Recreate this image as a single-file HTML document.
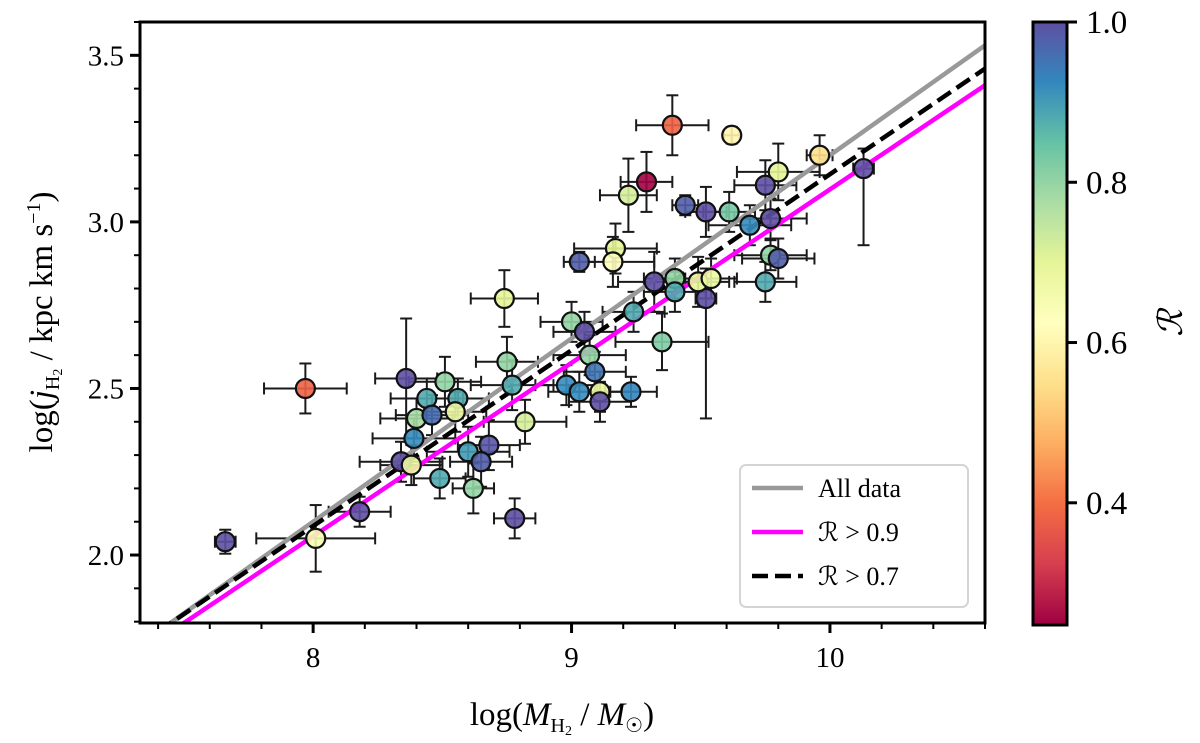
<!DOCTYPE html>
<html><head><meta charset="utf-8">
<style>
html,body{margin:0;padding:0;background:#fff;}
svg{display:block;font-family:"Liberation Serif","DejaVu Serif",serif;}
</style></head>
<body>
<svg id="chart" width="1200" height="743" viewBox="0 0 1200 743" xmlns="http://www.w3.org/2000/svg">
<defs>
<linearGradient id="spectral" x1="0" y1="1" x2="0" y2="0"></linearGradient>
<clipPath id="plotclip"><rect x="140" y="22" width="845" height="601"/></clipPath>
</defs>
<g id="errs" clip-path="url(#plotclip)"></g>
<g id="fits" clip-path="url(#plotclip)"></g>
<g id="pts"></g>
<g id="axes"></g>
<g id="legend"></g>
<g id="cbar"></g>
</svg>
<script>
// ---- data ----
const xVals=[7.66,7.97,8.01,8.18,8.36,8.51,8.44,8.56,8.55,8.40,8.46,8.39,8.34,8.38,8.49,8.60,8.68,8.65,8.62,8.78,8.74,8.75,8.77,8.82,9.00,9.05,9.07,9.09,8.98,9.03,9.11,9.11,9.23,9.24,9.35,9.52,9.32,9.40,9.40,9.49,9.54,9.75,9.39,9.62,9.96,10.13,9.80,9.75,9.29,9.22,9.44,9.52,9.61,9.69,9.77,9.17,9.16,9.03,9.77,9.80];
const yVals=[2.04,2.50,2.05,2.13,2.53,2.52,2.47,2.47,2.43,2.41,2.42,2.35,2.28,2.27,2.23,2.31,2.33,2.28,2.20,2.11,2.77,2.58,2.51,2.40,2.70,2.67,2.60,2.55,2.51,2.49,2.49,2.46,2.49,2.73,2.64,2.77,2.82,2.83,2.79,2.82,2.83,2.82,3.29,3.26,3.20,3.16,3.15,3.11,3.12,3.08,3.05,3.03,3.03,2.99,3.01,2.92,2.88,2.88,2.90,2.89];
const xErr=[.04,.16,.23,.12,.12,.14,.14,.12,.12,.14,.14,.16,.16,.12,.10,.16,.12,.12,.08,.08,.13,.12,.16,.16,.12,.12,.14,.12,.12,.12,.12,.12,.10,.12,.18,.04,.14,.12,.12,.12,.10,.12,.14,.03,.05,.04,.16,.12,.10,.11,.05,.08,.10,.16,.14,.16,.16,.06,.14,.14];
const yErrUp=[.036,.075,.10,.045,.18,.075,.06,.06,.06,.06,.06,.06,.06,.06,.06,.075,.075,.075,.075,.06,.085,.075,.075,.066,.06,.06,.06,.06,.06,.06,.06,.06,.045,.06,.085,.09,.09,.06,.06,.075,.06,.06,.09,.025,.06,.06,.085,.075,.09,.11,.03,.075,.06,.06,.06,.075,.075,.03,.045,.06];
const yErrDown=[.036,.075,.10,.045,.18,.075,.06,.06,.06,.06,.06,.06,.06,.06,.06,.075,.075,.075,.075,.06,.085,.075,.075,.066,.06,.06,.06,.06,.06,.06,.06,.06,.045,.06,.085,.36,.09,.06,.06,.075,.06,.06,.09,.025,.06,.23,.085,.075,.09,.11,.03,.075,.06,.06,.06,.075,.075,.03,.045,.06];
const rVals=[1.0,0.38,0.65,1.0,1.0,0.8,0.88,0.88,0.68,0.78,0.96,0.92,1.0,0.68,0.88,0.9,0.99,0.98,0.8,1.0,0.7,0.8,0.88,0.72,0.8,1.0,0.8,0.95,0.92,0.92,0.68,1.0,0.93,0.88,0.82,1.0,1.0,0.8,0.88,0.7,0.68,0.88,0.38,0.6,0.55,1.0,0.7,1.0,0.25,0.72,0.98,1.0,0.83,0.92,1.0,0.7,0.63,0.98,0.8,0.98];
const fitNames=["All data","ℛ > 0.9","ℛ > 0.7"];
const fitAll=[7.40,1.77,10.6,3.53];
const fit09=[7.45,1.77,10.6,3.41];
const fit07=[7.40,1.77,10.6,3.46];
const xTicks=[8,9,10];
const yTicks=[2.0,2.5,3.0,3.5];
const cTicks=[0.4,0.6,0.8,1.0];

const X0=140,X1=985,Y0=22,Y1=623;
const xMin=7.33,xMax=10.6,yMin=1.796,yMax=3.6;
const sx=v=>X0+(v-xMin)/(xMax-xMin)*(X1-X0);
const sy=v=>Y1-(v-yMin)/(yMax-yMin)*(Y1-Y0);
const cMin=0.2475,cMax=1.0;
const NS="http://www.w3.org/2000/svg";
function mk(tag,attrs,parent){const e=document.createElementNS(NS,tag);for(const k in attrs)e.setAttribute(k,attrs[k]);parent.appendChild(e);return e;}
const spec=["#9e0142","#d53e4f","#f46d43","#fdae61","#fee08b","#ffffbf","#e6f598","#abdda4","#66c2a5","#3288bd","#5e4fa2"];
function hex(h){return [1,3,5].map(i=>parseInt(h.substr(i,2),16));}
function cmap(r){let t=(r-cMin)/(cMax-cMin);t=Math.max(0,Math.min(1,t))*10;const i=Math.min(9,Math.floor(t)),f=t-i;const a=hex(spec[i]),b=hex(spec[i+1]);return "rgb("+a.map((v,k)=>Math.round(v+(b[k]-v)*f)).join(",")+")";}

const errs=document.getElementById('errs'),pts=document.getElementById('pts'),fits=document.getElementById('fits'),axes=document.getElementById('axes'),legend=document.getElementById('legend'),cbar=document.getElementById('cbar');

for(let i=0;i<xVals.length;i++){
  const cx=sx(xVals[i]),cy=sy(yVals[i]);
  const g=mk('g',{stroke:'#1a1a1a','stroke-width':2,fill:'none'},errs);
  
  
  const xl=sx(xVals[i]-xErr[i]),xr=sx(xVals[i]+xErr[i]),yt=sy(yVals[i]+yErrUp[i]),yb=sy(yVals[i]-yErrDown[i]);
  mk('line',{x1:xl,y1:cy,x2:xr,y2:cy},g);
  mk('line',{x1:cx,y1:yt,x2:cx,y2:yb},g);
  mk('line',{x1:xl,y1:cy-6,x2:xl,y2:cy+6},g);
  mk('line',{x1:xr,y1:cy-6,x2:xr,y2:cy+6},g);
  mk('line',{x1:cx-6,y1:yt,x2:cx+6,y2:yt},g);
  mk('line',{x1:cx-6,y1:yb,x2:cx+6,y2:yb},g);
}
function fitLine(f,attrs,name){const l=mk('line',Object.assign({x1:sx(f[0]),y1:sy(f[1]),x2:sx(f[2]),y2:sy(f[3])},attrs),fits);
  
  }
fitLine(fitAll,{stroke:'#999','stroke-width':4.5},'fit-all-data');
fitLine(fit09,{stroke:'#ff00ff','stroke-width':4.5},'fit-r-gt-0.9');
fitLine(fit07,{stroke:'#000','stroke-width':4.5,'stroke-dasharray':'16,7'},'fit-r-gt-0.7');
for(let i=0;i<xVals.length;i++){
  const c=mk('circle',{cx:sx(xVals[i]),cy:sy(yVals[i]),r:9.5,fill:cmap(rVals[i]),'fill-opacity':0.9,stroke:'#111','stroke-width':2.2},pts);
  
  
}
const fr=mk('rect',{x:X0,y:Y0,width:X1-X0,height:Y1-Y0,fill:'none',stroke:'#000','stroke-width':3},axes);


for(let v=7.4;v<=10.61;v+=0.2){const x=sx(v);const major=Math.abs(v-Math.round(v))<0.01;mk('line',{x1:x,y1:Y1,x2:x,y2:Y1+(major?10:6),stroke:'#000','stroke-width':major?3:2},axes);}
xTicks.forEach(v=>{const t=mk('text',{x:sx(v),y:Y1+44,'text-anchor':'middle','font-size':29},axes);t.textContent=String(v);
  
  });
for(let k=18;k<=36;k++){const v=k/10;const y=sy(v);if(y<Y0-1||y>Y1+1)continue;const major=k%5===0;mk('line',{x1:X0,y1:y,x2:X0-(major?10:6),y2:y,stroke:'#000','stroke-width':major?3:2},axes);}
yTicks.forEach(v=>{const t=mk('text',{x:X0-16,y:sy(v)+10,'text-anchor':'end','font-size':29},axes);t.textContent=v.toFixed(1);
  
  });
const xt=mk('text',{x:562,y:725,'text-anchor':'middle','font-size':33},axes);


xt.innerHTML='log(<tspan font-style="italic">M</tspan><tspan font-size="20" dy="7">H</tspan><tspan font-size="14" dy="3">2</tspan><tspan dy="-10"> / </tspan><tspan font-style="italic">M</tspan><tspan font-size="20" dy="7">☉</tspan><tspan dy="-7">)</tspan>';
const yt=mk('text',{x:0,y:0,'text-anchor':'middle','font-size':33,transform:'translate(52,322) rotate(-90)'},axes);


yt.innerHTML='log(<tspan font-style="italic">j</tspan><tspan font-size="20" dy="7">H</tspan><tspan font-size="14" dy="3">2</tspan><tspan dy="-10"> / kpc km s</tspan><tspan font-size="20" dy="-12">−1</tspan><tspan dy="12">)</tspan>';
const lb=mk('rect',{x:740,y:465,width:228,height:142,rx:6,fill:'#fff','fill-opacity':0.85,stroke:'#d5d5d5','stroke-width':2},legend);


const legStyles=[{stroke:'#999'},{stroke:'#ff00ff'},{stroke:'#000','stroke-dasharray':'16,7'}];
fitNames.forEach((n,i)=>{const y=488+i*44;
  const g=mk('g',{},legend);
  
  
  mk('line',Object.assign({x1:752,y1:y,x2:803,y2:y,'stroke-width':4.5},legStyles[i]),g);
  const t=mk('text',{x:818,y:y+9,'font-size':26},g);t.textContent=n;});
const grad=document.getElementById('spectral');
spec.forEach((c,i)=>mk('stop',{offset:(i/10),'stop-color':c},grad));
const CX=1033,CW=34,CY0=22,CY1=625;
const cr=mk('rect',{x:CX,y:CY0,width:CW,height:CY1-CY0,fill:'url(#spectral)',stroke:'#000','stroke-width':3},cbar);


const cy=v=>CY1-(v-cMin)/(cMax-cMin)*(CY1-CY0);
cTicks.forEach(v=>{const y=cy(v);mk('line',{x1:CX+CW,y1:y,x2:CX+CW+10,y2:y,stroke:'#000','stroke-width':3},cbar);
  const t=mk('text',{x:CX+CW+19,y:y+11,'font-size':33},cbar);t.textContent=v.toFixed(1);
  
  });
const ct=mk('text',{x:0,y:0,'text-anchor':'middle','font-size':34,'font-style':'italic',transform:'translate(1182,323) rotate(-90)'},cbar);
ct.textContent='ℛ';


</script>
</body></html>
